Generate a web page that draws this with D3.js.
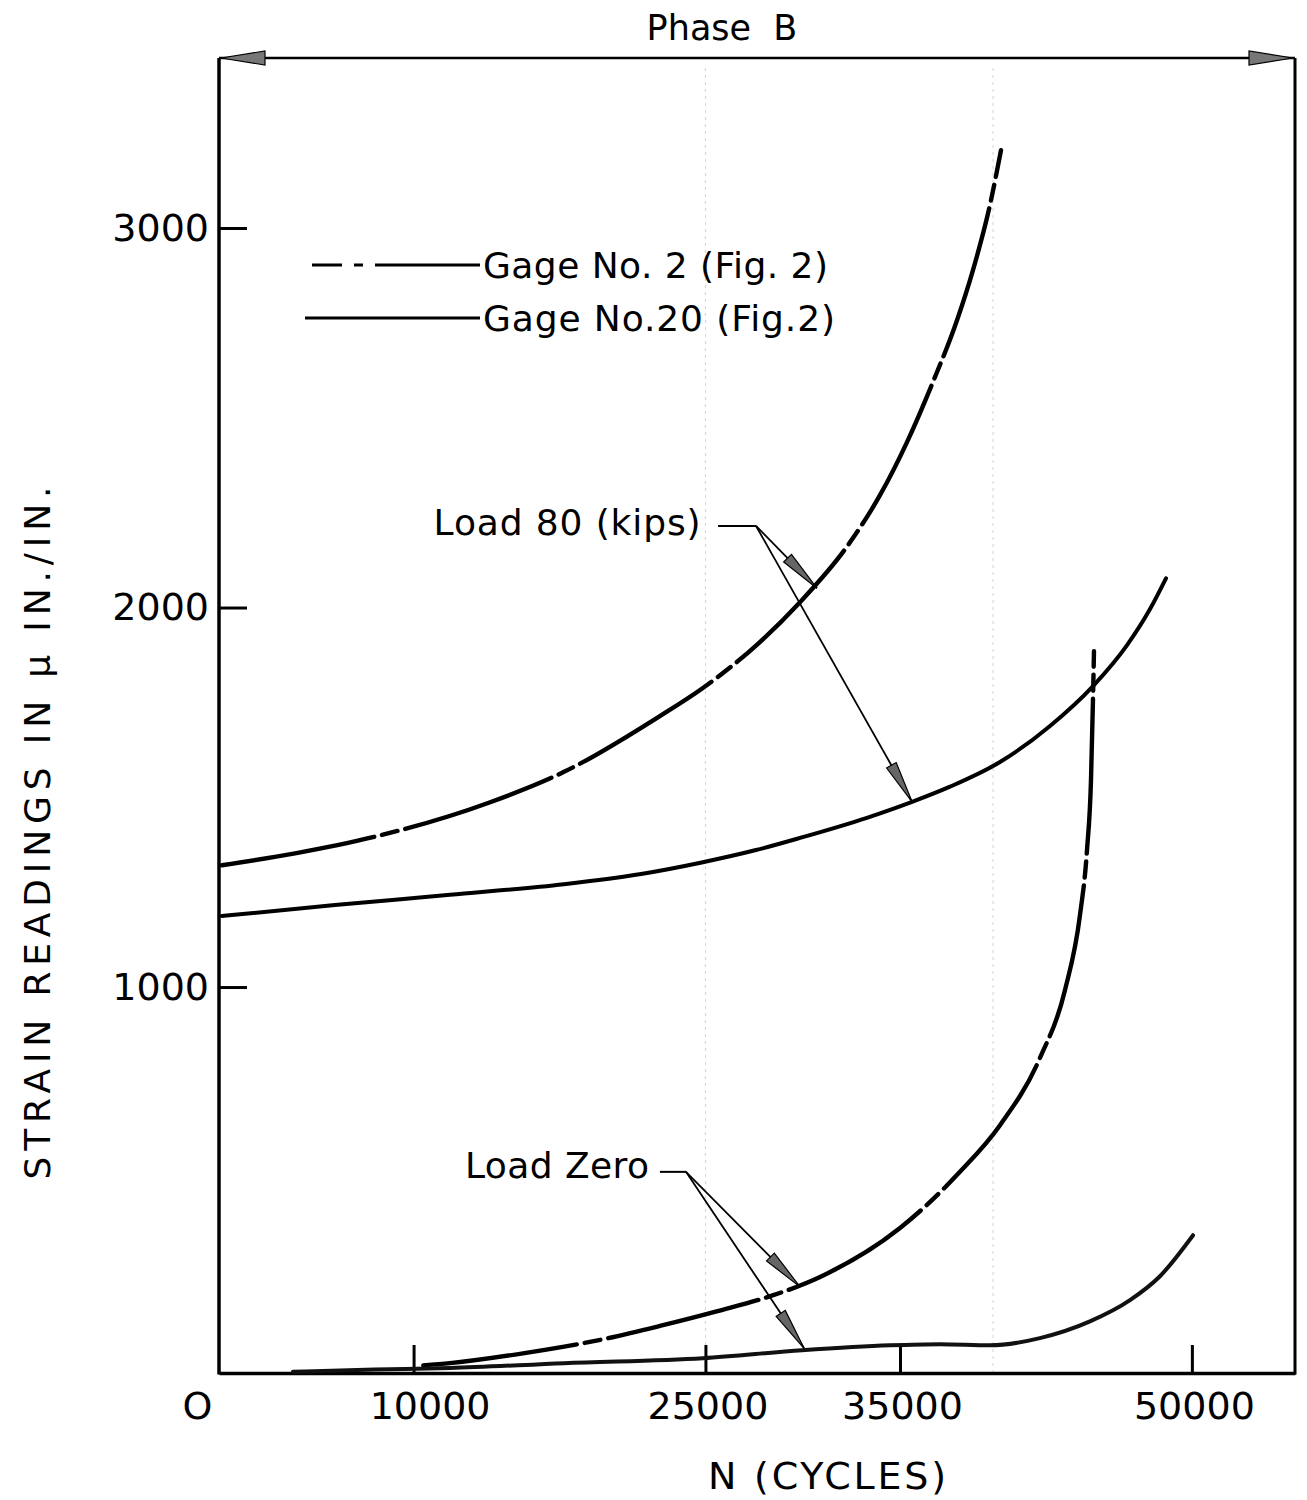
<!DOCTYPE html>
<html>
<head>
<meta charset="utf-8">
<script src="https://cdn.jsdelivr.net/npm/d3@7"></script>
<style>
  html, body { margin: 0; padding: 0; background: #fff; }
  svg { display: block; }
  text { font-family: "DejaVu Sans", "Liberation Sans", sans-serif; fill: #000; }
</style>
</head>
<body>
<svg id="chart" width="1307" height="1500"></svg>
<script>
// ---------------- DATA ----------------
// [N (cycles), strain (micro in./in.)]
const gage2Load80 = [
  [150, 1321], [3980, 1353], [7910, 1395], [13830, 1485], [17730, 1567],
  [22660, 1714], [24870, 1788], [27800, 1909], [29860, 2014], [32280, 2161],
  [33970, 2296], [35360, 2436], [36690, 2594], [37930, 2757], [38750, 2889],
  [39620, 3060], [40190, 3205]
];
const gage20Load80 = [
  [150, 1187], [5960, 1216], [11870, 1243], [17730, 1271], [21690, 1298],
  [24870, 1329], [27600, 1361], [29860, 1393], [33300, 1446], [35620, 1488],
  [37570, 1528], [40140, 1593], [42710, 1688], [44920, 1793], [46670, 1901],
  [47850, 1996], [48670, 2077]
];
const gage2LoadZero = [
  [10500, 3], [11870, 9], [15780, 36], [19740, 72], [22660, 107], [25620, 146],
  [28370, 186], [30890, 236], [35000, 365], [38080, 513], [40140, 636],
  [42190, 813], [43480, 992], [44250, 1190], [44610, 1361], [44815, 1545],
  [44917, 1756], [44969, 1885]
];
const gage20LoadZero = [
  [3800, -14], [8000, -8], [11870, -4], [17730, 9], [24870, 22], [29960, 43],
  [34480, 56], [37050, 59], [39620, 56], [42190, 75], [44760, 119],
  [46820, 175], [48360, 238], [50060, 346]
];

const xTickValues = [0, 10000, 25000, 35000, 50000];
const xTickLabels = ["O", "10000", "25000", "35000", "50000"];
const yTickValues = [1000, 2000, 3000];
const yTickLabels = ["1000", "2000", "3000"];

const legendLabels = ["Gage No. 2 (Fig. 2)", "Gage No.20 (Fig.2)"];
const titleText = "Phase  B";
const xTitle = "N (CYCLES)";
const yTitle = "STRAIN  READINGS  IN  \u03BC  IN./IN.";

// annotations (data units): label, text anchor point, leader start, elbow, arrow tips
const annLoad80 = { label: "Load 80 (kips)", text: [24750, 2190], start: [25650, 2215], elbow: [27600, 2215],
  tips: [[30730, 2051], [35620, 1488]] };
const annLoadZero = { label: "Load Zero", text: [22100, 498], start: [22660, 513], elbow: [24000, 513],
  tips: [[29860, 210], [30070, 48]] };

// ---------------- LAYOUT ----------------
const svg = d3.select("#chart");
const plot = { left: 219, right: 1295, top: 58, bottom: 1373 };

const x = d3.scaleLinear().domain([0, 55300]).range([plot.left, plot.right]);
const y = d3.scaleLinear().domain([-17, 3448]).range([plot.bottom, plot.top]);

// faint scanner fold lines
[25000, 39780].forEach(v => {
  svg.append("line")
    .attr("x1", x(v)).attr("x2", x(v))
    .attr("y1", plot.top + 10).attr("y2", plot.bottom)
    .attr("stroke", "#d4d4d4").attr("stroke-width", 1)
    .attr("stroke-dasharray", "3,4");
});

// frame: left axis, right border
svg.append("line").attr("x1", plot.left).attr("x2", plot.left)
  .attr("y1", plot.top).attr("y2", plot.bottom + 1.5)
  .attr("stroke", "#000").attr("stroke-width", 3.5);
svg.append("line").attr("x1", plot.right).attr("x2", plot.right)
  .attr("y1", plot.top).attr("y2", plot.bottom + 1.5)
  .attr("stroke", "#000").attr("stroke-width", 3);

// top double-headed line
svg.append("line").attr("x1", plot.left).attr("x2", plot.right)
  .attr("y1", plot.top).attr("y2", plot.top)
  .attr("stroke", "#000").attr("stroke-width", 2.5);

function wedge(tipX, tipY, fromX, fromY, len, half) {
  const dx = tipX - fromX, dy = tipY - fromY;
  const d = Math.hypot(dx, dy);
  const ux = dx / d, uy = dy / d;
  const bx = tipX - ux * len, by = tipY - uy * len;
  const px = -uy * half, py = ux * half;
  return `M${tipX},${tipY}L${bx + px},${by + py}L${bx - px},${by - py}Z`;
}
// top arrowheads
svg.append("path").attr("d", wedge(plot.left + 2, plot.top, plot.right, plot.top, 44, 7))
  .attr("fill", "#777").attr("stroke", "#000").attr("stroke-width", 1.2);
svg.append("path").attr("d", wedge(plot.right - 2, plot.top, plot.left, plot.top, 44, 7))
  .attr("fill", "#777").attr("stroke", "#000").attr("stroke-width", 1.2);

// title
svg.append("text").attr("x", 722).attr("y", 40)
  .attr("text-anchor", "middle").attr("font-size", 35)
  .attr("xml:space", "preserve")
  .style("white-space", "pre")
  .text(titleText);

// x axis
const xAxis = d3.axisBottom(x)
  .tickValues(xTickValues)
  .tickFormat((d, i) => xTickLabels[i])
  .tickSizeInner(-28).tickSizeOuter(0).tickPadding(19);
const gx = svg.append("g").attr("transform", `translate(0,${plot.bottom})`).call(xAxis);
gx.select(".domain").attr("stroke", "#000").attr("stroke-width", 3.5);
gx.selectAll(".tick line").attr("stroke", "#000").attr("stroke-width", 3)
  .filter(d => d === 0).remove();
gx.selectAll(".tick text").attr("font-size", 38).attr("fill", "#000")
  .attr("font-family", "DejaVu Sans, sans-serif")
  .attr("dx", d => d === 0 ? -22 : (d === 10000 ? 16 : 2));

// y axis
const yAxis = d3.axisLeft(y)
  .tickValues(yTickValues)
  .tickFormat((d, i) => yTickLabels[i])
  .tickSizeInner(-28).tickSizeOuter(0).tickPadding(10);
const gy = svg.append("g").attr("transform", `translate(${plot.left},0)`).call(yAxis);
gy.select(".domain").remove();
gy.selectAll(".tick line").attr("stroke", "#000").attr("stroke-width", 3);
gy.selectAll(".tick text").attr("font-size", 38).attr("fill", "#000")
  .attr("font-family", "DejaVu Sans, sans-serif");

// axis titles
svg.append("text").attr("x", 827).attr("y", 1489)
  .attr("text-anchor", "middle").attr("font-size", 38)
  .attr("textLength", 238).attr("lengthAdjust", "spacing")
  .text(xTitle);
svg.append("text")
  .attr("transform", `translate(50,833) rotate(-90)`)
  .attr("text-anchor", "middle").attr("font-size", 36)
  .attr("textLength", 693).attr("lengthAdjust", "spacing")
  .text(yTitle);

// curves
const line = d3.line().x(d => x(d[0])).y(d => y(d[1])).curve(d3.curveMonotoneX);
const dashDot = "155,8,16,8";

svg.append("path").datum(gage2Load80).attr("d", line)
  .attr("fill", "none").attr("stroke", "#000").attr("stroke-width", 4.4)
  .attr("stroke-dasharray", dashDot).attr("stroke-linecap", "round");
svg.append("path").datum(gage20Load80).attr("d", line)
  .attr("fill", "none").attr("stroke", "#000").attr("stroke-width", 4)
  .attr("stroke-linecap", "round");
svg.append("path").datum(gage2LoadZero).attr("d", line)
  .attr("fill", "none").attr("stroke", "#000").attr("stroke-width", 4.4)
  .attr("stroke-dasharray", dashDot).attr("stroke-linecap", "round");
svg.append("path").datum(gage20LoadZero).attr("d", line)
  .attr("fill", "none").attr("stroke", "#111").attr("stroke-width", 4)
  .attr("stroke-linecap", "round");

// legend
const legendY = [265, 318];
const legendX0 = [312, 305];
svg.append("line").attr("x1", legendX0[0]).attr("x2", 480).attr("y1", legendY[0]).attr("y2", legendY[0])
  .attr("stroke", "#000").attr("stroke-width", 3).attr("stroke-dasharray", "30,12,9,12,200");
svg.append("line").attr("x1", legendX0[1]).attr("x2", 480).attr("y1", legendY[1]).attr("y2", legendY[1])
  .attr("stroke", "#000").attr("stroke-width", 3);
legendLabels.forEach((t, i) => {
  svg.append("text").attr("x", 483).attr("y", legendY[i] + 13)
    .attr("font-size", 36)
    .attr("textLength", i === 0 ? 345 : 352).attr("lengthAdjust", "spacing")
    .text(t);
});

// annotations
function annotate(a, textLen) {
  svg.append("text").attr("x", x(a.text[0])).attr("y", y(a.text[1]))
    .attr("text-anchor", "end").attr("font-size", 36)
    .attr("textLength", textLen).attr("lengthAdjust", "spacing")
    .text(a.label);
  svg.append("line")
    .attr("x1", x(a.start[0])).attr("y1", y(a.start[1]))
    .attr("x2", x(a.elbow[0])).attr("y2", y(a.elbow[1]))
    .attr("stroke", "#000").attr("stroke-width", 2);
  a.tips.forEach(t => {
    svg.append("line")
      .attr("x1", x(a.elbow[0])).attr("y1", y(a.elbow[1]))
      .attr("x2", x(t[0])).attr("y2", y(t[1]))
      .attr("stroke", "#000").attr("stroke-width", 1.8);
    svg.append("path")
      .attr("d", wedge(x(t[0]), y(t[1]), x(a.elbow[0]), y(a.elbow[1]), 42, 5.5))
      .attr("fill", "#666").attr("stroke", "#000").attr("stroke-width", 1.2);
  });
}
annotate(annLoad80, 267);
annotate(annLoadZero, 184);
</script>
</body>
</html>
